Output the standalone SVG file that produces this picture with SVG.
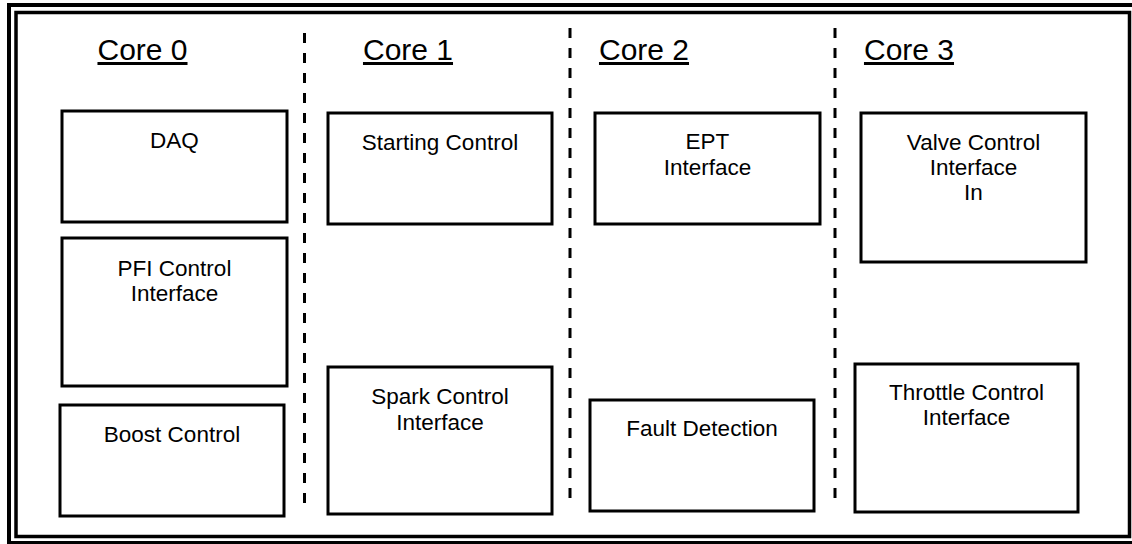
<svg xmlns="http://www.w3.org/2000/svg" width="1132" height="544" viewBox="0 0 1132 544">
  <style>
    .frame { fill: none; stroke: #000; }
    .box { fill: #fff; stroke: #000; stroke-width: 3; }
    .lbl { font-family: "Liberation Sans", Arial, sans-serif; font-size: 22.5px; fill: #000; text-anchor: middle; }
    .core { font-family: "Liberation Sans", Arial, sans-serif; font-size: 30px; fill: #000; text-anchor: middle; text-decoration: underline; }
    .divider { stroke: #000; stroke-width: 3; stroke-dasharray: 10 10; fill: none; }
  </style>
  <rect width="1132" height="544" fill="#fff"/>

  <!-- double border -->
  <g id="border">
    <rect class="frame" x="9" y="5" width="1130" height="538" stroke-width="4"/>
    <rect class="frame" x="16" y="12.5" width="1113.5" height="524" stroke-width="3.5"/>
  </g>

  <!-- core column dividers -->
  <g id="dividers">
    <line class="divider" x1="304.5" y1="33" x2="304.5" y2="510"/>
    <line class="divider" x1="570" y1="28" x2="570" y2="505"/>
    <line class="divider" x1="835" y1="28" x2="835" y2="505"/>
  </g>

  <!-- column headings -->
  <g id="headings">
    <text class="core" x="142.5" y="60">Core 0</text>
    <text class="core" x="408" y="60">Core 1</text>
    <text class="core" x="644" y="60">Core 2</text>
    <text class="core" x="909" y="60">Core 3</text>
  </g>

  <g id="daq">
    <rect class="box" x="62" y="111" width="225" height="111"/>
    <text class="lbl" x="174.5" y="148">DAQ</text>
  </g>
  <g id="pfi-control">
    <rect class="box" x="62" y="238" width="225" height="148"/>
    <text class="lbl" x="174.5" y="276">PFI Control</text>
    <text class="lbl" x="174.5" y="301">Interface</text>
  </g>
  <g id="boost-control">
    <rect class="box" x="60" y="405" width="224" height="111"/>
    <text class="lbl" x="172" y="442">Boost Control</text>
  </g>

  <g id="starting-control">
    <rect class="box" x="328" y="113" width="224" height="111"/>
    <text class="lbl" x="440" y="150">Starting Control</text>
  </g>
  <g id="spark-control">
    <rect class="box" x="328" y="367" width="224" height="147"/>
    <text class="lbl" x="440" y="404">Spark Control</text>
    <text class="lbl" x="440" y="430">Interface</text>
  </g>

  <g id="ept-interface">
    <rect class="box" x="595" y="113" width="225" height="111"/>
    <text class="lbl" x="707.5" y="149">EPT</text>
    <text class="lbl" x="707.5" y="175">Interface</text>
  </g>
  <g id="fault-detection">
    <rect class="box" x="590" y="400" width="224" height="111"/>
    <text class="lbl" x="702" y="436">Fault Detection</text>
  </g>

  <g id="valve-control">
    <rect class="box" x="861" y="113" width="225" height="149"/>
    <text class="lbl" x="973.5" y="150">Valve Control</text>
    <text class="lbl" x="973.5" y="175">Interface</text>
    <text class="lbl" x="973.5" y="200">In</text>
  </g>
  <g id="throttle-control">
    <rect class="box" x="855" y="364" width="223" height="148"/>
    <text class="lbl" x="966.5" y="400">Throttle Control</text>
    <text class="lbl" x="966.5" y="425">Interface</text>
  </g>
</svg>
